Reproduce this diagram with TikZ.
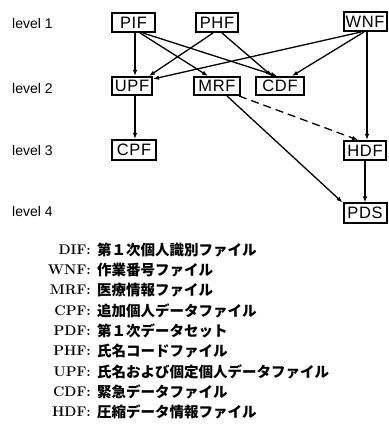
\documentclass[tikz,border=0pt]{standalone}
\usepackage{fontspec}
\usetikzlibrary{arrows.meta}
\newfontfamily\boxfont[LetterSpace=4]{Liberation Sans}
\newfontfamily\lvlfont{Liberation Sans}
\newfontfamily\jpfont{Noto Sans CJK JP}
\begin{document}
\begin{tikzpicture}[x=1pt,y=-1pt,
  fbox/.style={draw,line width=2pt,inner sep=0pt,font=\boxfont\fontsize{16.5}{18}\selectfont},
  lvl/.style={anchor=west,inner sep=0pt,font=\lvlfont\fontsize{14}{16}\selectfont},
  key/.style={anchor=east,inner sep=0pt,font=\bfseries\fontsize{14}{16}\selectfont},
  desc/.style={anchor=west,inner sep=0pt,font=\jpfont\bfseries\fontsize{14.5}{16}\selectfont},
  arr/.style={line width=1.3pt,-{Latex[length=6pt,width=4.5pt]}}]
\useasboundingbox (0,0) rectangle (388,435);

% level labels
\node[lvl] (l1) at (12,24) {level 1};
\node[lvl] (l2) at (12,88) {level 2};
\node[lvl] (l3) at (12,150) {level 3};
\node[lvl] (l4) at (12,211) {level 4};

% boxes
\node[fbox,minimum width=43,minimum height=19] (PIF) at (133.5,22.5) {PIF};
\node[fbox,minimum width=42,minimum height=19] (PHF) at (217,22.5) {PHF};
\node[fbox,minimum width=43,minimum height=19] (WNF) at (365,21.5) {WNF};
\node[fbox,minimum width=40,minimum height=18] (UPF) at (132,86) {UPF};
\node[fbox,minimum width=46,minimum height=18] (MRF) at (217,86) {MRF};
\node[fbox,minimum width=48,minimum height=18] (CDF) at (280,86) {CDF};
\node[fbox,minimum width=44,minimum height=20] (CPF) at (134,150) {CPF};
\node[fbox,minimum width=42,minimum height=19] (HDF) at (365,150.5) {HDF};
\node[fbox,minimum width=43,minimum height=19] (PDS) at (365,213) {PDS};

% connectors
\draw[arr] ([xshift=1.5pt]PIF.south) -- ([xshift=3pt]UPF.north);
\draw[arr] ([xshift=6.5pt]PIF.south) -- ([xshift=-9pt]MRF.north);
\draw[arr] ([xshift=9.5pt]PIF.south) -- ([xshift=-3pt]CDF.north);
\draw[arr] ([xshift=-4pt]PHF.south) -- ([xshift=-4pt]UPF.north east);
\draw[arr] ([xshift=5pt]PHF.south) -- ([xshift=-8pt]CDF.north);
\draw[arr] ([xshift=-4pt]WNF.south) -- ([yshift=-3pt]UPF.north east);
\draw[arr] ([xshift=-1pt]WNF.south) -- ([xshift=12pt]CDF.north);
\draw[arr] ([xshift=2pt]WNF.south) -- ([xshift=2pt]HDF.north);
\draw[arr] ([xshift=10pt]MRF.south) -- (PDS.north west);
\draw[arr,dash pattern=on 8pt off 5pt] ([xshift=-2pt]MRF.south east) -- ([xshift=-7pt]HDF.north);
\draw[arr] ([xshift=3pt]UPF.south) -- ([xshift=1pt]CPF.north);
\draw[arr] (HDF.south) -- (PDS.north);

% legend
\node[key] (k1) at (91,250) {DIF:};
\node[desc] (d1) at (97,250) {第１次個人識別ファイル};
\node[key] (k2) at (91,270) {WNF:};
\node[desc] (d2) at (97,270) {作業番号ファイル};
\node[key] (k3) at (91,290) {MRF:};
\node[desc] (d3) at (97,290) {医療情報ファイル};
\node[key] (k4) at (91,311) {CPF:};
\node[desc] (d4) at (97,311) {追加個人データファイル};
\node[key] (k5) at (91,331) {PDF:};
\node[desc] (d5) at (97,331) {第１次データセット};
\node[key] (k6) at (91,351) {PHF:};
\node[desc] (d6) at (97,351) {氏名コードファイル};
\node[key] (k7) at (91,372) {UPF:};
\node[desc] (d7) at (97,372) {氏名および個定個人データファイル};
\node[key] (k8) at (91,392) {CDF:};
\node[desc] (d8) at (97,392) {緊急データファイル};
\node[key] (k9) at (91,412) {HDF:};
\node[desc] (d9) at (97,412) {圧縮データ情報ファイル};
\end{tikzpicture}
\end{document}
